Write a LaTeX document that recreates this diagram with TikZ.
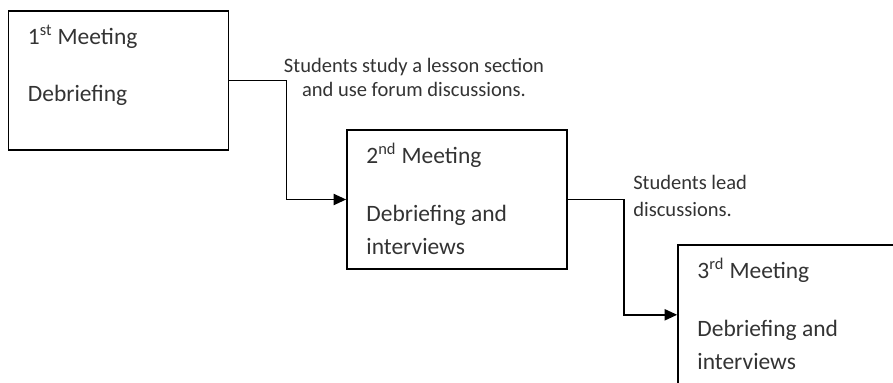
\documentclass[tikz,border=0pt]{standalone}
\usepackage{fontspec}
\setmainfont{Carlito}
\usepackage{xcolor}
\definecolor{mText}{HTML}{333333}
\usetikzlibrary{arrows.meta, positioning, calc}

\begin{document}
\begin{tikzpicture}[
  every node/.style={text=mText},
  meet/.style={rectangle, draw=black, line width=1.2pt,
               minimum width=5.5cm, minimum height=3.475cm, inner sep=0pt},
  boxtxt/.style={anchor=base west, inner sep=0pt, align=left,
                 font=\fontsize{16.7}{23.5}\selectfont},
  note/.style={inner sep=0pt, font=\fontsize{14.6}{17}\selectfont},
  flow/.style={draw=black, line width=1.2pt, -{Triangle[length=9pt,width=8pt]}}
]
\useasboundingbox (0,0) rectangle (22.325,9.55);

% meeting boxes
\node[meet] (m1) at (2.9625,7.5375) {};
\node[meet] (m2) at (11.425,4.5625) {};
\node[meet] (m3) at (19.7,1.68)     {};

% (base of a two-line node = its last line)
\node[boxtxt] (m1title) at ($(m1.north west)+(0.5,-0.85)$)  {1\textsuperscript{st} Meeting};
\node[boxtxt] (m1body)  at ($(m1.north west)+(0.5,-2.275)$) {Debriefing};

\node[boxtxt] (m2title) at ($(m2.north west)+(0.5,-0.85)$)  {2\textsuperscript{nd} Meeting};
\node[boxtxt] (m2body)  at ($(m2.north west)+(0.5,-3.125)$) {Debriefing and\\interviews};

\node[boxtxt] (m3title) at ($(m3.north west)+(0.5,-0.85)$)  {3\textsuperscript{rd} Meeting};
\node[boxtxt] (m3body)  at ($(m3.north west)+(0.5,-3.125)$) {Debriefing and\\interviews};

% activities between meetings
\node[note, anchor=base, align=center] (n1) at (10.35,7.15)
  {Students study a lesson section\\and use forum discussions.};
\node[note, anchor=base west, align=left] (n2) at (15.825,4.15)
  {Students lead\\[1.5pt]discussions.};

\draw[flow] (m1.east) -- ++(1.425,0) |- (m2.west);
\draw[flow] (m2.east) -- ++(1.4,0)   |- (m3.west);
\end{tikzpicture}
\end{document}
